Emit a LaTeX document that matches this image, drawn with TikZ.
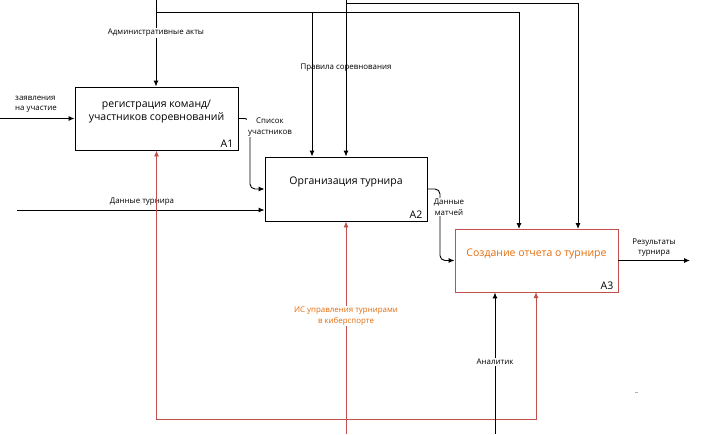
\documentclass[tikz,border=0pt]{standalone}
\usepackage{fontspec}
\setmainfont{Open Sans}
\usetikzlibrary{arrows.meta,calc}
\definecolor{mechred}{RGB}{192,80,77}
\definecolor{txtorange}{RGB}{228,108,10}
\begin{document}
\begin{tikzpicture}[x=1pt,y=-1pt,
  fnbox/.style={draw=black,line width=0.9pt,minimum width=163pt,minimum height=63pt,inner sep=0pt},
  boxtitle/.style={font=\fontsize{10.5}{13}\selectfont,align=center,inner sep=0pt},
  boxnum/.style={font=\fontsize{10.5}{12}\selectfont,anchor=south east,inner xsep=5pt,inner ysep=3pt},
  lbl/.style={font=\fontsize{7.9}{10.5}\selectfont,align=center,inner sep=1pt},
  wlbl/.style={lbl,fill=white},
  arr/.style={line width=0.9pt,-{Latex[length=6pt,width=5pt]}},
  redarr/.style={line width=0.9pt,draw=mechred,-{Latex[length=6pt,width=5pt]}}]
\useasboundingbox (0,0) rectangle (701,434);

% boxes
\node[fnbox] (A1) at (156.5,118.5) {};
\node[fnbox,minimum width=162pt,minimum height=64pt] (A2) at (346,189) {};
\node[fnbox,draw=mechred] (A3) at (536.5,260.5) {};
\node[boxtitle] (t1) at (156.5,112) {регистрация команд/\\участников соревнований};
\node[boxtitle] (t2) at (346,182) {Организация турнира};
\node[boxtitle,text=txtorange] (t3) at (536.5,254) {Создание отчета о турнире};
\node[boxnum] (n1) at (A1.south east) {A1};
\node[boxnum] (n2) at (A2.south east) {A2};
\node[boxnum] (n3) at (A3.south east) {A3};

% coordinates
\coordinate (admtop) at (156,0);
\coordinate (admj) at (156,12);
\coordinate (admA2) at (312,12);
\coordinate (admA3) at (519,229);
\coordinate (rultop) at (346,0);
\coordinate (rulj) at (346,3);
\coordinate (rulA3) at (578,229);
\coordinate (zin) at (0,118.5);
\coordinate (dtin) at (17,210);
\coordinate (resout) at (690,260.5);
\coordinate (isbot) at (346,434);
\coordinate (isj) at (346,419);
\coordinate (anbot) at (495,434);

% controls
\draw[arr] (admtop) -- (admtop |- A1.north);
\draw[line width=0.9pt] (admj) -- (admA2);
\draw[arr] (admA2) -- (admA2 |- A2.north);
\draw[arr] (admA2) -| (admA3);
\draw[arr] (rultop) -- (rultop |- A2.north);
\draw[arr] (rulj) -| (rulA3);
\node[lbl,fill=white] (ladm) at (156,33) {Административные акты};
\node[lbl] (lrul) at (346,68) {Правила соревнования};

% inputs
\draw[arr] (zin) -- (A1.west);
\node[lbl,align=left,anchor=west] (lz) at (14,104.5) {заявления\\на участие};
\draw[arr] (dtin) -- (dtin -| A2.west);
\node[lbl] (ldt) at (142,202) {Данные турнира};

% A1 -> A2
\draw[arr,rounded corners=5pt] (A1.east) -- (250,118.5) -- (250,189) -- (A2.west);
\node[wlbl] (lsp) at (270,127) {Список\\участников};

% A2 -> A3
\draw[arr,rounded corners=5pt] (A2.east) -- (440,189) -- (440,260.5) -- (A3.west);
\node[wlbl] (ldm) at (449,207) {Данные\\матчей};

% output
\draw[arr] (A3.east) -- (resout);
\node[lbl] (lres) at (654,247.5) {Результаты\\турнира};

% mechanisms
\draw[redarr] (isbot) -- (isbot |- A2.south);
\draw[redarr] (isj) -| (A1.south);
\draw[redarr] (isj) -| (536,292);
\node[lbl,fill=white,text=txtorange] (lis) at (346,316) {ИС управления турнирами\\в киберспорте};
\draw[arr] (anbot) -- (anbot |- A3.south);
\node[lbl,fill=white] (lan) at (495,362) {Аналитик};

% small stray mark
\draw[gray!60,line width=0.6pt] (634.5,392) -- (637.5,392);
\end{tikzpicture}
\end{document}
